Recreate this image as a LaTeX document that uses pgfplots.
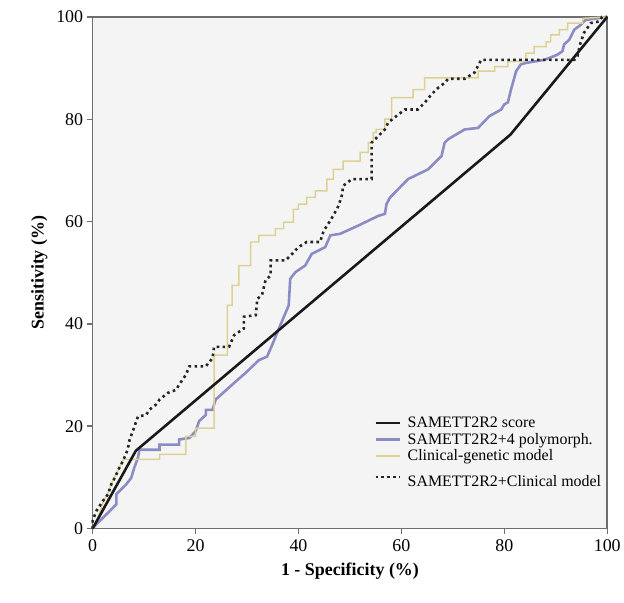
\documentclass[border=0pt]{standalone}
\usepackage{fontspec}
\setmainfont{Liberation Serif}
\usepackage{pgfplots}
\pgfplotsset{compat=1.18}

\definecolor{bggray}{HTML}{F4F4F4}
\definecolor{axgray}{HTML}{6E6E6E}
\definecolor{polyblue}{HTML}{8C8CC4}
\definecolor{clinyellow}{HTML}{DDD192}

\begin{document}
\begin{tikzpicture}
\begin{axis}[
    scale only axis,
    width=517pt, height=514pt,
    xmin=0, xmax=100, ymin=0, ymax=100,
    xtick={0,20,...,100}, ytick={0,20,...,100},
    xtick pos=bottom, ytick pos=left,
    tick align=outside,
    major tick length=6pt,
    axis line style={axgray, line width=1.6pt},
    every tick/.style={axgray, line width=1.4pt},
    axis background/.style={fill=bggray},
    /pgf/number format/assume math mode=true,
    tick label style={font=\fontsize{18}{20}\selectfont},
    xticklabel style={yshift=-2pt},
    label style={font=\fontsize{18}{21}\selectfont\bfseries},
    xlabel={1 - Specificity (\%)},
    ylabel={Sensitivity (\%)},
    xlabel style={yshift=-4pt},
    ylabel style={yshift=2pt},
    legend cell align=left,
    legend style={draw=none, fill=none, at={(0.541,0.226)}, anchor=north west,
        font=\fontsize{16}{18}\selectfont, row sep=0pt,
        nodes={inner xsep=6pt}},
    legend image code/.code={\draw[#1] (0pt,0pt) -- (25pt,0pt);},
    clip=false,
]
% SAMETT2R2+4 polymorph.
\addplot[polyblue, line width=2.6pt, forget plot] coordinates {
(0,0) (0.7,0.8) (2,2.1) (3.3,3.4) (4.6,4.7) (4.6,6.7) (6.5,8.6) (7.5,9.9) (8.1,11.9) (8.8,13.8) (9.1,15.4)
(13,15.4) (13,16.4) (16.8,16.4) (16.8,17.4) (18.8,17.7) (20,19) (20.7,21) (22,22.2) (22,23.2) (23.3,23.2)
(23.9,25.2) (27.1,28.1) (29.7,30.4) (32.3,32.9) (33.9,33.6) (34.9,35.9) (36.2,39.1) (38.1,43.6) (38.4,48.8)
(39.4,50.1) (41.3,51.4) (42.6,53.7) (45.2,55) (46.2,57.3) (48.1,57.6) (51.6,59.2) (55.5,61.1) (56.8,61.5)
(57.1,63.4) (57.8,64.7) (61.3,68.3) (65.2,70.2) (67.8,72.8) (68.4,75.4) (69.1,76.1) (72.3,78) (74.9,78.3)
(77.1,80.6) (79.4,81.9) (80,82.9) (80.7,83.3) (81.3,85.8) (82.3,89.4) (83.2,90.7) (84.2,91) (87.8,91.6)
(90.3,92.6) (91.3,93.3) (91.6,94.6) (92.6,95.5) (93.6,97.5) (94.8,98.4) (95.8,99.4) (100,100)
};
% Clinical-genetic model
\addplot[clinyellow, line width=1.5pt, forget plot] coordinates {
(0,0) (1,2) (2,5) (3,7) (4,9.5) (5,11.5) (6,13.5) (13,13.5) (13,14.5) (18.1,14.5) (18.1,18) (20,18)
(20,19.6) (23.6,19.6) (23.6,33.9) (26.2,33.9) (26.2,43.6) (27.1,43.6) (27.1,47.5) (28.4,47.5) (28.4,51.4)
(30.7,51.4) (30.7,56) (32.3,56) (32.3,57.3) (35.5,57.3) (35.5,58.6) (37.1,58.6) (37.1,59.9) (39,59.9)
(39,62.4) (40,62.4) (40,63.4) (41.6,63.4) (41.6,64.7) (43.3,64.7) (43.3,66) (45.5,66) (45.5,68.3)
(46.8,68.3) (46.8,70.2) (48.7,70.2) (48.7,71.8) (52,71.8) (52,73.5) (53.6,73.5) (53.6,75.4) (54.5,75.4)
(54.5,77.4) (55.1,77.4) (55.1,78) (56.8,78) (56.8,80) (58.1,80) (58.1,84.2) (62.3,84.2) (62.3,85.8)
(64.5,85.8) (64.5,88.1) (74.9,88.1) (74.9,89.4) (78.1,89.4) (78.1,90.3) (80.7,90.3) (80.7,91.3)
(84.2,91.3) (84.2,92.9) (85.8,92.9) (85.8,94.2) (88.1,94.2) (88.1,95.1) (89,95.1) (89,96.5) (90.7,96.5)
(90.7,97.5) (92.3,97.5) (92.3,98.8) (95.2,98.8) (95.2,99.7) (100,100)
};
% SAMETT2R2 score
\addplot[black!90, line width=2.6pt, forget plot] coordinates {
(0,0) (8.4,15.2) (81.2,77) (100,100)
};
% SAMETT2R2+Clinical model
\addplot[black!85, line width=2.6pt, dash pattern=on 2.6pt off 3.4pt, forget plot] coordinates {
(0,0) (0,1.5) (0.7,3.4) (2,5.4) (3,6.7) (3.6,8.6) (4.3,9.9) (5.2,11.9) (5.9,13.2) (6.8,15.4) (7.2,17.4)
(7.8,19) (8.5,21) (8.8,21.9) (10.4,22.2) (11,23.2) (12.3,24.2) (13,25.2) (14.6,26.5) (16.2,27.1)
(16.8,28.1) (18.1,30) (18.8,31.7) (22,31.7) (23.3,33.3) (23.6,35.5) (26.5,35.5) (27.5,37.8) (29.4,39.1)
(29.4,41.4) (31.7,41.7) (32,44.9) (32.9,45.6) (33.6,48.5) (34.6,49.5) (34.6,52.4) (37.5,52.4) (38.8,53.7)
(40,55) (41.6,56) (44.2,56) (44.9,58.2) (46.2,60.2) (47.1,61.8) (47.8,63.1) (48.4,65) (48.7,67)
(50.4,68.3) (54.2,68.3) (54.2,75.4) (55.5,76.7) (56.8,78) (57.4,79.3) (59,80.6) (60.7,81.9) (63.2,81.9)
(64.5,83.2) (65.8,84.8) (67.1,86.1) (68.4,87.1) (69.1,87.9) (72.3,87.9) (74.2,89.1) (75.5,91.6)
(93.6,91.6) (94.2,92.3) (94.8,94.9) (95.5,96.9) (96.8,98.8) (98.4,99.1) (99,100) (100,100)
};
\addlegendimage{black!90, line width=2.6pt}
\addlegendentry{SAMETT2R2 score}
\addlegendimage{polyblue, line width=2.6pt}
\addlegendentry{SAMETT2R2+4 polymorph.}
\addlegendimage{clinyellow, line width=1.5pt}
\addlegendentry{Clinical-genetic model}
\addlegendimage{black!85, line width=2.6pt, dash pattern=on 2.6pt off 3.4pt}
\addlegendentry{\rule{0pt}{20pt}SAMETT2R2+Clinical model}
\coordinate (bbsw) at (rel axis cs:-0.18,-0.144);
\coordinate (bbne) at (rel axis cs:1.027,1.033);
\end{axis}
\path (bbsw) rectangle (bbne);
\end{tikzpicture}
\end{document}
